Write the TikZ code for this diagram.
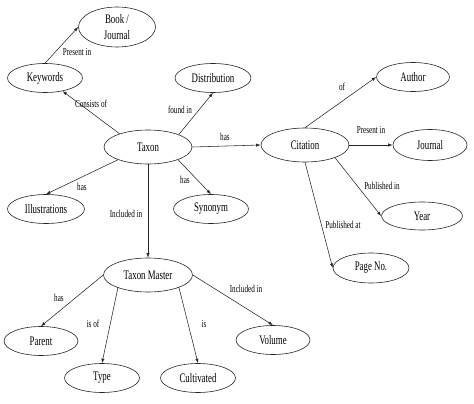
\documentclass[tikz,border=0pt]{standalone}
\usepackage{fontspec}
\setmainfont[FakeStretch=0.68]{Liberation Serif}
\usetikzlibrary{arrows.meta,shapes.geometric}
\tikzset{
  ell/.style ={ellipse,draw=black!85,line width=.6pt,minimum width=75pt,
               minimum height=29pt,inner sep=0pt,align=center,
               font=\fontsize{13}{16}\selectfont},
  bell/.style={ell,minimum width=88pt,minimum height=34pt},
  ar/.style  ={-{Latex[length=4.5pt,width=3.2pt]},line width=.55pt,black!85},
  lbl/.style ={font=\fontsize{10.5}{12}\selectfont,inner sep=1pt},
}
\begin{document}
\begin{tikzpicture}[x=1pt,y=-1pt]
  \useasboundingbox (0,0) rectangle (474,404);
  % centre
  \node[bell] (taxon) at (148,147){Taxon};
  \node[ell] (keywords) at (45,78){Keywords};
  \node[ell,minimum width=77pt,minimum height=40pt] (book) at (117,27){Book /\\Journal};
  \node[ell,minimum width=76pt] (distrib) at (213,78){Distribution};
  \node[ell,minimum width=77pt] (illus) at (46,209){Illustrations};
  \node[ell] (synonym) at (211,209){Synonym};
  % citation side
  \node[bell] (citation) at (305,145){Citation};
  \node[ell,minimum width=73pt] (author) at (413,77){Author};
  \node[ell,minimum width=74pt,minimum height=31pt] (journal) at (430,145){Journal};
  \node[ell,minimum width=81pt,minimum height=28pt] (year) at (422,216){Year};
  \node[ell,minimum width=76pt,minimum height=30pt] (pageno) at (371,268){Page No.};
  % taxon master
  \node[bell,minimum width=89pt] (master) at (148,275){Taxon Master};
  \node[ell,minimum width=74pt] (parent) at (41,341){Parent};
  \node[ell] (type) at (102,378){Type};
  \node[ell] (cultiv) at (198,378){Cultivated};
  \node[ell,minimum width=74pt] (volume) at (273,340){Volume};

  \draw[ar] (keywords.north) -- (book.west);
  \draw[ar] (taxon.155) -- (keywords);
  \draw[ar] (taxon.22) -- (distrib.south);
  \draw[ar] (taxon.east) -- (citation.west);
  \draw[ar] (taxon.203) -- (illus.north);
  \draw[ar] (taxon.337) -- (synonym.north);
  \draw[ar] (taxon.south) -- (master.north);
  \draw[ar] (citation.north) -- (author.west);
  \draw[ar] (citation.east) -- (journal.west);
  \draw[ar] (citation.-23) -- (year.west);
  \draw[ar] (citation.south) -- (pageno.west);
  \draw[ar] (master.west) -- (parent.north);
  \draw[ar] (master.203) -- (type.north);
  \draw[ar] (master.338) -- (cultiv.north);
  \draw[ar] (master.east) -- (volume.north);

  % edge labels
  \node[lbl] (l-pres1) at (77,52){Present in};
  \node[lbl] (l-cons) at (91,104){Consists of};
  \node[lbl] (l-found) at (180,110){found in};
  \node[lbl] (l-has1) at (225,137){has};
  \node[lbl] (l-has2) at (82,187){has};
  \node[lbl] (l-has3) at (185,180){has};
  \node[lbl] (l-incl1) at (126,214){Included in};
  \node[lbl] (l-of) at (342,87){of};
  \node[lbl] (l-pres2) at (371,130){Present in};
  \node[lbl] (l-pubin) at (382,186){Published in};
  \node[lbl] (l-pubat) at (343,225){Published at};
  \node[lbl] (l-has4) at (59,298){has};
  \node[lbl] (l-isof) at (93,324){is of};
  \node[lbl] (l-is) at (204,324){is};
  \node[lbl] (l-incl2) at (246,289){Included in};
\end{tikzpicture}
\end{document}
